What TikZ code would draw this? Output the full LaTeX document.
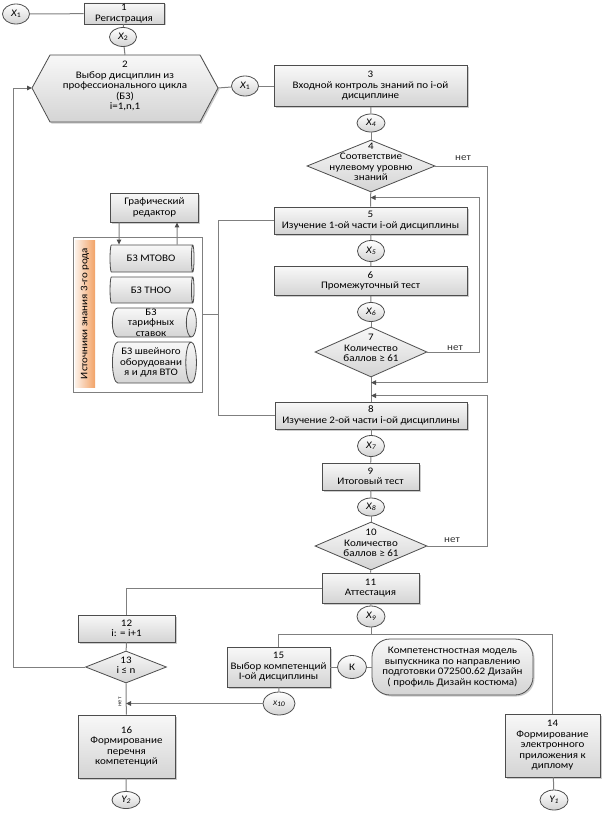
\documentclass[tikz,border=0pt]{standalone}
\usepackage{fontspec}
\setmainfont{Carlito}[FakeStretch=1.1]
\usetikzlibrary{shapes.geometric,shadows,arrows.meta,positioning,calc}
\definecolor{lnclr}{HTML}{7F7F7F}
\definecolor{edgeclr}{HTML}{4D4D4D}
\definecolor{boxtop}{HTML}{F8F8F8}
\definecolor{boxbot}{HTML}{D4D4D4}
\definecolor{bartop}{HTML}{F2A266}
\definecolor{barbot}{HTML}{FCF1E8}
\newcommand{\xx}[2]{{\itshape #1}\raisebox{-0.3ex}{\scriptsize #2}}

\begin{document}
\begin{tikzpicture}[x=1pt, y=-1pt,
    font=\fontsize{10}{10.5}\selectfont,
    ln/.style={draw=lnclr, line width=1pt},
    arr/.style={ln, -{Triangle[length=5pt,width=4.5pt,color=edgeclr]}},
    box/.style={draw=edgeclr, line width=0.8pt, top color=boxtop, bottom color=boxbot,
        drop shadow={shadow xshift=1.5pt, shadow yshift=-1.5pt, fill=black!40},
        align=center, inner sep=0.5pt},
    conn/.style={ellipse, draw=edgeclr, line width=0.8pt, top color=white, bottom color=boxbot,
        inner sep=0pt, minimum width=27, minimum height=20},
    diam/.style={diamond, draw=edgeclr, line width=0.8pt, top color=boxtop, bottom color=boxbot,
        inner sep=0pt},
    cyl/.style={cylinder, draw=edgeclr, line width=0.8pt, top color=boxtop, bottom color=boxbot,
        shape aspect=0.35, minimum height=84, align=center, inner sep=0.5pt},
    lbl/.style={text=black!80}]
    \useasboundingbox (0,0) rectangle (608,816);

    % Registration and choice of disciplines
    \node[conn] (x1a) at (16,14) {\xx{X}{1}};
    \node[box, minimum width=80, minimum height=21] (b1) at (124,13.5) {1\\Регистрация};
    \node[conn, minimum height=19] (x2) at (123,37) {\xx{X}{2}};
    \path[box] (32,88) -- (50,55) -- (200,55) -- (218,88) -- (200,122) -- (50,122) -- cycle;
    \coordinate (s2w) at (32,88);
    \coordinate (s2e) at (218,88);
    \coordinate (s2n) at (125,55);
    \node[align=center] (s2) at (125,86) {2\\Выбор дисциплин из\\профессионального цикла\\(БЗ)\\i=1,n,1};
    \node[conn] (x1b) at (245,86) {\xx{X}{1}};
    \draw[ln] (x1a) -- (b1);
    \draw[ln] (b1) -- (x2) -- (s2n);
    \draw[ln] (s2e) -- (x1b);

    % Main column
    \node[box, minimum width=193, minimum height=41] (b3) at (370.5,86) {3\\Входной контроль знаний по i-ой\\дисциплине};
    \draw[ln] (x1b) -- (b3);
    \node[conn, minimum width=28, minimum height=18] (x4) at (371,123) {\xx{X}{\textit{4}}};
    \node[diam, minimum width=128, minimum height=52] (d4) at (371,166) {};
    \node[align=center] (t4) at (371,162) {4\\Соответствие\\нулевому уровню\\знаний};
    \node[box, minimum width=193, minimum height=27] (b5) at (370.5,220.5) {5\\Изучение 1-ой части i-ой дисциплины};
    \node[conn, minimum height=21] (x5) at (371,251) {\xx{X}{\textit{5}}};
    \node[box, minimum width=193, minimum height=29] (b6) at (370.5,281) {6\\Промежуточный тест};
    \node[conn, minimum height=19] (x6) at (371,312) {\xx{X}{\textit{6}}};
    \node[diam, minimum width=112, minimum height=50] (d7) at (371,352) {};
    \node[align=center] (t7) at (371,348) {7\\Количество\\баллов ≥ 61};
    \node[box, minimum width=192, minimum height=27] (b8) at (371,415.5) {8\\Изучение 2-ой части i-ой дисциплины};
    \node[conn, minimum height=21] (x7) at (371,446) {\xx{X}{\textit{7}}};
    \node[box, minimum width=97, minimum height=27] (b9) at (370.5,476.5) {9\\Итоговый тест};
    \node[conn, minimum height=18] (x8) at (371,507) {\xx{X}{\textit{8}}};
    \node[diam, minimum width=112, minimum height=48] (d10) at (371,546) {};
    \node[align=center] (t10) at (371,543) {10\\Количество\\баллов ≥ 61};
    \node[box, minimum width=97, minimum height=30] (b11) at (370.5,588) {11\\Аттестация};
    \node[conn, minimum width=28, minimum height=21] (x9) at (371,616.5) {\xx{X}{\textit{9}}};
    \foreach \a/\b in {x4/d4, d4/b5, b5/x5, x5/b6, b6/x6, x6/d7, d7/b8, b8/x7, x7/b9, b9/x8, x8/d10, d10/b11, b11/x9}
        \draw[ln] (\a) -- (\b);
    \draw[ln] (b3) -- (x4);

    % Loops back ("нет")
    \draw[arr] (d4.east) -- ++(52,0) |- ([yshift=19]b8.north);
    \node[lbl] (n4) at (463,158) {нет};
    \draw[arr] (d7.east) -- ++(52,0) |- ([yshift=9]b5.north);
    \node[lbl] (n7) at (455,348) {нет};
    \draw[arr] (d10.east) -- ++(60,0) |- ([yshift=6]b8.north);
    \node[lbl] (n10) at (452,540) {нет};

    % Sources of knowledge
    \node[box, minimum width=88, minimum height=29] (gr) at (154.5,207.5) {Графический\\редактор};
    \node[draw=lnclr, fill=white, minimum width=129, minimum height=155, inner sep=0pt,
        drop shadow={shadow xshift=1pt, shadow yshift=-1pt, fill=black!25}] (src) at (137.5,314.5) {};
    \node[rotate=90, minimum width=147, minimum height=20, inner sep=0pt,
        left color=barbot, right color=bartop] (bar) at (85,313.5) {Источники знания 3-го рода};
    \foreach \i/\y/\h/\t in {1/258.5/27/{БЗ МТОВО}, 2/290/26/{БЗ ТНОО},
        3/322.5/29/{БЗ\\тарифных\\ставок}, 4/362.5/41/{БЗ швейного\\оборудовани\\я и для ВТО}}
        \node[cyl, minimum width=\h] (c\i) at (151,\y) {\t};
    \draw[arr] ([xshift=-35.5]gr.south) -- ([xshift=-32]c1.north);
    \draw[arr] ([xshift=26]c1.north) -- ([xshift=22.5]gr.south);
    \coordinate (jn) at ($(src.east)+(16,0)$);
    \draw[ln] (src.east) -- (jn);
    \draw[ln] (b5.west) -| (jn) |- (b8.west);

    % Lower part
    \node[box, minimum width=97, minimum height=27] (b12) at (126.5,628.5) {12\\i: = i+1};
    \node[diam, minimum width=81, minimum height=32] (d13) at (126,667) {};
    \node[align=center] (t13) at (126,665) {13\\i ≤ n};
    \node[box, minimum width=97, minimum height=63] (b16) at (126.5,746.5) {16\\Формирование\\перечня\\компетенций};
    \node[conn, minimum width=28, minimum height=17] (y2) at (126,800) {\xx{Y}{\textit{2}}};
    \node[box, minimum width=103, minimum height=40] (b15) at (278.5,667) {15\\Выбор компетенций\\I-ой дисциплины};
    \node[conn, minimum width=29, minimum height=23] (kk) at (352,667) {К};
    \node[box, rounded corners=18, minimum width=161, minimum height=56] (mdl) at (452.5,667)
        {Компетенстностная модель\\выпускника по направлению\\подготовки 072500.62 Дизайн\\( профиль Дизайн костюма)};
    \node[conn, minimum width=32, minimum height=23] (x10) at (279,703.5) {\xx{\scriptsize X}{\textit{10}}};
    \node[box, minimum width=95, minimum height=63] (b14) at (552.5,745.5) {14\\Формирование\\электронного\\приложения к\\диплому};
    \node[conn, minimum width=28, minimum height=20] (y1) at (554,800) {\xx{Y}{\textit{1}}};
    \coordinate (split) at ($(x9)+(0,18)$);
    \draw[ln] (x9) -- (split);
    \draw[ln] (b15.north) |- (split) -| (b14.north);
    \draw[ln] (b11.west) -| (b12.north);
    \draw[ln] (b12) -- (d13);
    \draw[ln] (d13) -- (b16);
    \draw[ln] (b16) -- (y2);
    \draw[arr] (d13.west) -- ++(-72,0) |- (s2w);
    \node[lbl, rotate=90, font=\fontsize{6}{6}\selectfont] (n13) at (120,702) {нет};
    \draw[ln] (b15) -- (x10);
    \draw[arr] (x10) -- (x10 -| d13);
    \draw[ln] (b15) -- (kk) -- (mdl);
    \draw[ln] (b14) -- (y1);
\end{tikzpicture}
\end{document}
